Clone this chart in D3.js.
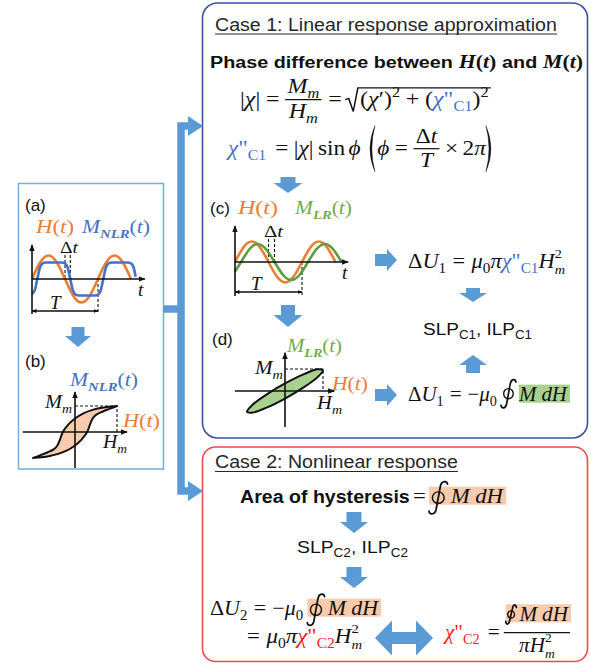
<!DOCTYPE html>
<html>
<head>
<meta charset="utf-8">
<script src="https://cdnjs.cloudflare.com/ajax/libs/d3/7.8.5/d3.min.js"></script>
<style>body{margin:0;background:#fff}</style>
</head>
<body>
<script>
// ---- values ----
// time in periods, amplitudes normalised to the H(t) amplitude
const waveT = [0, .125, .25, .375, .5, .625, .75, .875, 1, 1.125, 1.25, 1.375, 1.5];
const waveH = [0, .71, 1, .71, 0, -.71, -1, -.71, 0, .71, 1, .71, 0];
// (a) nonlinear (saturated) response, lagging H
const nlrT = [0, .04, .08, .12, .16, .21, .45, .5, .54, .58, .62, .66, .71, .95, 1, 1.04, 1.08, 1.12, 1.16, 1.21, 1.45, 1.5, 1.54, 1.57];
const nlrM = [-.63, -.49, 0, .49, .66, .7, .7, .66, .49, 0, -.49, -.66, -.7, -.7, -.66, -.49, 0, .49, .66, .7, .7, .66, .49, .1];
// (c) linear response, lagging H
const lrT = [0, .09, .215, .34, .465, .59, .715, .84, .965, 1.09, 1.215, 1.34, 1.465, 1.59];
const lrM = [-.47, 0, .62, .88, .62, 0, -.62, -.88, -.62, 0, .62, .88, .62, 0];
// (b) hysteresis loop, H/Hm and M/Mm
const hysDescH = [1, .8, .6, .4, .2, 0, -.15, -.29, -.36, -.42, -.5, -.65, -.82, -1];
const hysDescM = [1, .97, .92, .84, .72, .52, .3, 0, -.3, -.52, -.66, -.78, -.89, -1];
const hysAscH = [-1, -.8, -.6, -.4, -.2, 0, .15, .29, .36, .42, .5, .65, .82, 1];
const hysAscM = [-1, -.97, -.92, -.84, -.72, -.52, -.3, 0, .3, .52, .66, .78, .89, 1];
// (d) elliptic loop of the linear response
const ellH = [1, .866, .5, 0, -.5, -.866, -1, -.866, -.5, 0, .5, .866];
const ellM = [.94, .985, .766, .342, -.174, -.643, -.94, -.985, -.766, -.342, .174, .643];

const W = 591, H = 663;
const MATH = "'Liberation Serif', 'DejaVu Serif', serif";
const SANS = "'Liberation Sans', Arial, sans-serif";
const INK = "#111";
const ORANGE = "#ed7d31", BLUE = "#4472c4", GREEN = "#70ad47", RED = "#ff1a1a";
const ARROW = "#5b9bd5";

const svg = d3.select("body").append("svg").attr("width", W).attr("height", H);

const defs = svg.append("defs");
defs.append("marker").attr("id", "ah").attr("viewBox", "0 0 10 10")
    .attr("refX", 9).attr("refY", 5).attr("markerUnits", "userSpaceOnUse")
    .attr("markerWidth", 7).attr("markerHeight", 7).attr("orient", "auto-start-reverse")
  .append("path").attr("d", "M0,1L10,5L0,9z").attr("fill", INK);
defs.append("marker").attr("id", "ahs").attr("viewBox", "0 0 10 10")
    .attr("refX", 9).attr("refY", 5).attr("markerUnits", "userSpaceOnUse")
    .attr("markerWidth", 5).attr("markerHeight", 5).attr("orient", "auto-start-reverse")
  .append("path").attr("d", "M0,1L10,5L0,9z").attr("fill", INK);

// ---- frames ----
svg.append("rect").attr("x", 18.5).attr("y", 183.5).attr("width", 145).attr("height", 285.5)
    .attr("fill", "none").attr("stroke", "#72aee0").attr("stroke-width", 1.5);
svg.append("rect").attr("x", 202.5).attr("y", 3).attr("width", 385).attr("height", 435).attr("rx", 15)
    .attr("fill", "none").attr("stroke", "#3a51a3").attr("stroke-width", 1.6);
svg.append("rect").attr("x", 202.5).attr("y", 447).attr("width", 385).attr("height", 214.5).attr("rx", 13)
    .attr("fill", "none").attr("stroke", "#ef4a4a").attr("stroke-width", 1.6);

// connector from the left panel to both cases
svg.append("path").attr("d", "M190,126H181V491H190M163,309H181")
    .attr("fill", "none").attr("stroke", ARROW).attr("stroke-width", 7.5);
svg.append("path").attr("d", "M188,116L203,126L188,136ZM188,481L203,491L188,501Z").attr("fill", ARROW);

// block arrows: tail point, angle, length, head width, shaft width, head length
function blockArrow(x, y, ang, len, hw, sw, hl) {
  svg.append("path")
    .attr("d", `M0,${-sw/2}H${len-hl}V${-hw/2}L${len},0L${len-hl},${hw/2}V${sw/2}H0Z`)
    .attr("transform", `translate(${x},${y}) rotate(${ang})`)
    .attr("fill", ARROW);
}
blockArrow(288, 177, 90, 16, 29, 15, 10);
blockArrow(288, 305, 90, 22, 29, 14, 12);
blockArrow(375, 260, 0, 22, 22, 12, 10);
blockArrow(473, 288, 90, 14, 28, 14, 9);
blockArrow(473, 373, -90, 18, 28, 14, 10);
blockArrow(375, 395, 0, 22, 22, 12, 10);
blockArrow(78, 327, 90, 20, 26, 13, 11);
blockArrow(354, 512, 90, 21, 28, 15, 11);
blockArrow(354, 567, 90, 21, 28, 15, 11);
svg.append("path")
  .attr("d", "M375,638L392,620.5V632H416V620.5L433,638L416,655.5V644H392V655.5Z")
  .attr("fill", ARROW);

// ---- tiny math layout: one <text> per group, one tspan per run ----
function txt(p, x, y, s, o) {
  let t = p.select(":scope > text");
  if (t.empty()) t = p.append("text");
  return t.append("tspan").attr("x", x).attr("y", y).text(s)
    .attr("font-family", o.sans ? SANS : MATH)
    .attr("font-size", o.size)
    .attr("font-style", o.it ? "italic" : "normal")
    .attr("font-weight", o.b ? "bold" : "normal")
    .attr("fill", o.fill || INK)
    .node().getComputedTextLength();
}
function mk(base) {
  return (s, o = {}) => (p, x, y, sz, st) =>
    txt(p, x, y + (o.dy || 0) * sz, s, {...st, ...base, ...o, size: sz * (o.k || 1)});
}
const I = mk({it: true}), R = mk({it: false}), S = mk({sans: true, it: false});
const sub = (s, o = {}) => R(s, {dy: .25, k: .68, ...o});
const sup = (s, o = {}) => R(s, {dy: -.42, k: .68, ...o});
const subsup = (b, a) => (p, x, y, sz, st) => Math.max(
  txt(p, x, y + .3 * sz, b, {...st, it: true, size: sz * .64}),
  txt(p, x, y - .46 * sz, a, {...st, it: false, size: sz * .64}));
const gap = w => () => w;

function layout(p, x, y, sz, items, st = {}) {
  let cx = x;
  items.forEach(f => { cx += f(p, cx, y, sz, st); });
  return cx - x;
}
function line(x, y, sz, items, target, st = {}) {
  const g = svg.append("g");
  const w = layout(g, x, y, sz, items, st);
  if (target) g.attr("transform", `translate(${x},0) scale(${target / w},1) translate(${-x},0)`);
  return g;
}
const frac = (num, den, nUp, dDown) => (p, x, y, sz, st) => {
  const bar = y - sz * .3;
  const gn = p.append("g"), gd = p.append("g");
  const wn = layout(gn, 0, bar - nUp, sz, num, st);
  const wd = layout(gd, 0, bar + dDown, sz, den, st);
  const w = Math.max(wn, wd) + 4;
  gn.attr("transform", `translate(${x + (w - wn) / 2},0)`);
  gd.attr("transform", `translate(${x + (w - wd) / 2},0)`);
  p.append("line").attr("x1", x).attr("x2", x + w).attr("y1", bar).attr("y2", bar)
    .attr("stroke", INK).attr("stroke-width", 1.2);
  return w + 2;
};
const sqrt = items => (p, x, y, sz, st) => {
  const top = y - sz * .86;
  const w = layout(p, x + 13, y, sz, items, st);
  p.append("path")
    .attr("d", `M${x},${y - sz*.3}L${x+3},${y - sz*.36}L${x+7},${y + sz*.26}L${x+11},${top}H${x+15+w}`)
    .attr("fill", "none").attr("stroke", INK).attr("stroke-width", 1.3);
  return w + 16;
};
const paren = left => (p, x, y, sz) => {
  const c = y - sz * .3, t = c - 23, b = c + 23, w = 8;
  const d = left
    ? `M${x+w},${t}Q${x-1},${c} ${x+w},${b}Q${x+2.4},${c} ${x+w},${t}Z`
    : `M${x},${t}Q${x+w+1},${c} ${x},${b}Q${x+w-2.4},${c} ${x},${t}Z`;
  p.append("path").attr("d", d).attr("fill", INK).attr("stroke", INK).attr("stroke-width", .4);
  return w + 2;
};
const oint = (h, dy = 0) => (p, x, y, sz) => {
  const cy = y - sz * .3 + dy, w = h * .5, t = cy - h / 2, b = cy + h / 2;
  p.append("path")
    .attr("d", `M${x+w},${t+3.5}C${x+w-.5},${t} ${x+w*.7},${t-.5} ${x+w*.62},${t+5}` +
      `L${x+w*.38},${b-5}C${x+w*.3},${b+.5} ${x},${b} ${x},${b-3.5}`)
    .attr("fill", "none").attr("stroke", INK).attr("stroke-width", 1.7).attr("stroke-linecap", "round");
  p.append("ellipse").attr("cx", x + w * .5).attr("cy", cy).attr("rx", h * .16).attr("ry", h * .17)
    .attr("fill", "none").attr("stroke", INK).attr("stroke-width", 1.4);
  return w + 2;
};
const hl = (items, color, l = 1, r = 2) => (p, x, y, sz, st) => {
  const rect = p.insert("rect", ":first-child");
  const w = layout(p, x, y, sz, items, st);
  rect.attr("x", x - l).attr("y", y - sz * .78).attr("width", w + l + r)
      .attr("height", sz * .86).attr("fill", color);
  return w;
};

const Ht = [I("H"), R("("), I("t"), R(")")];
const Mnlr = [I("M"), sub("NLR", {it: true, b: true}), R("("), I("t"), R(")")];
const Mlr = [I("M"), sub("LR", {it: true, b: true}), R("("), I("t"), R(")")];
const Mm = [I("M"), sub("m", {it: true})];
const Hm = [I("H"), sub("m", {it: true})];
const MdH = [I("M"), gap(5), I("d"), I("H")];

// ---- Case 1 ----
line(215, 31, 18.5, [S("Case 1: Linear response approximation")], 342, {fill: "#262626"});
svg.append("line").attr("x1", 215).attr("x2", 557).attr("y1", 34).attr("y2", 34)
    .attr("stroke", "#262626").attr("stroke-width", 1.2);

line(210, 68, 17, [S("Phase difference between"), gap(5), I("H", {k: 1.1}), R("(", {k: 1.1}), I("t", {k: 1.1}),
  R(")", {k: 1.1}), gap(5), S("and"), gap(5), I("M", {k: 1.1}), R("(", {k: 1.1}), I("t", {k: 1.1}), R(")", {k: 1.1})],
  373, {b: true});

line(240, 106, 21, [R("|"), I("χ"), R("|"), gap(5), R("="), gap(5),
  frac(Mm, Hm, 6.5, 18.5), gap(4), R("="), gap(3),
  sqrt([R("("), I("χ"), R("′"), R(")"), sup("2"), gap(5), R("+"), gap(5), R("("),
    I("χ", {fill: BLUE}), R("\"", {fill: BLUE}), sub("C1", {fill: BLUE}), R(")"), sup("2")])], 252);

line(228, 155, 21, [I("χ", {fill: BLUE}), R("\"", {fill: BLUE}), sub("C1", {fill: BLUE}), gap(8),
  R("="), gap(5), R("|"), I("χ"), R("|"), gap(4), R("sin"), gap(3), I("ϕ"), gap(5), paren(true),
  I("ϕ"), gap(5), R("="), gap(5), frac([R("Δ"), I("t")], [I("T")], 6, 18), gap(3), R("×"), gap(4),
  R("2"), I("π"), paren(false)], 269);

line(408, 268, 21, [R("Δ"), I("U"), sub("1"), gap(6), R("="), gap(6), I("μ"), sub("0"), I("π"),
  I("χ", {fill: BLUE}), R("\"", {fill: BLUE}), sub("C1", {fill: BLUE}), I("H"), subsup("m", "2")], 157);

line(423, 335, 17, [S("SLP"), S("C1", {dy: .24, k: .7}), S(", ILP"), S("C1", {dy: .24, k: .7})], 109);

line(408, 401, 21, [R("Δ"), I("U"), sub("1"), gap(6), R("="), gap(6), R("−"), I("μ"), sub("0"), gap(4),
  oint(30, -1), gap(1), hl(MdH, "#a9d18e", 0, 3)], 159);

// ---- Case 2 ----
line(215, 468, 18.5, [S("Case 2: Nonlinear response")], 243, {fill: "#262626"});
svg.append("line").attr("x1", 215).attr("x2", 458).attr("y1", 471.5).attr("y2", 471.5)
    .attr("stroke", "#262626").attr("stroke-width", 1.2);

line(240, 503, 21, [S("Area of hysteresis", {b: true, k: .86}), gap(3), R("="), gap(3),
  hl([oint(34, 1), gap(1), ...MdH], "#f8cbad", 0, 3)], 263);

line(297, 553, 17, [S("SLP"), S("C2", {dy: .24, k: .7}), S(", ILP"), S("C2", {dy: .24, k: .7})], 111);

line(210, 615, 21, [R("Δ"), I("U"), sub("2"), gap(6), R("="), gap(6), R("−"), I("μ"), sub("0"), gap(4),
  hl([oint(33, 1), gap(1), ...MdH], "#f8cbad", 0, 3)], 168);

line(247, 643, 21, [R("="), gap(6), I("μ"), sub("0"), I("π"), I("χ", {fill: RED}), R("\"", {fill: RED}),
  sub("C2", {fill: RED}), I("H"), subsup("m", "2")], 115);

line(445, 639, 21, [I("χ", {fill: RED}), R("\"", {fill: RED}), sub("C2", {fill: RED}), gap(8), R("="), gap(4),
  frac([hl([oint(21, 0), gap(1), ...MdH], "#f8cbad", 0, 3)], [I("π"), I("H"), subsup("m", "2")], 12, 19)], 127);

// ---- panel helpers ----
const curve = (xs, ys, ts, vs, c) => d3.line().curve(c)(ts.map((t, i) => [xs(t), ys(vs[i])]));
function axisLine(x1, y1, x2, y2, marker = "ah", w = 1.6) {
  svg.append("line").attr("x1", x1).attr("y1", y1).attr("x2", x2).attr("y2", y2)
    .attr("stroke", INK).attr("stroke-width", w).attr("marker-end", `url(#${marker})`);
}
function dashed(pts) {
  svg.append("path").attr("d", d3.line()(pts)).attr("fill", "none")
    .attr("stroke", INK).attr("stroke-width", 1.1).attr("stroke-dasharray", "3,2");
}
function bracket(x1, x2, y) {
  svg.append("line").attr("x1", x1).attr("x2", x2).attr("y1", y).attr("y2", y)
    .attr("stroke", INK).attr("stroke-width", 1.3)
    .attr("marker-start", "url(#ahs)").attr("marker-end", "url(#ahs)");
}

// ---- (a) ----
const xA = d3.scaleLinear().domain([0, 1]).range([32, 98]);
const yA = d3.scaleLinear().domain([-1, 1]).range([302.5, 255.5]);
line(25, 211, 17, [S("(a)")]);
line(36, 233, 19, Ht, 38, {fill: ORANGE});
line(82, 233, 19, Mnlr, 68, {fill: BLUE});
dashed([[xA(.5), 255], [xA(.5), yA(0)]]);
dashed([[xA(.58), 255], [xA(.58), yA(0)]]);
dashed([[xA(1), yA(0)], [xA(1), 313]]);
line(60, 253, 17, [R("Δ"), I("t")], 18);
svg.append("path").attr("d", curve(xA, yA, waveT, waveH, d3.curveNatural))
    .attr("fill", "none").attr("stroke", ORANGE).attr("stroke-width", 2.6);
svg.append("path").attr("d", curve(xA, yA, nlrT, nlrM, d3.curveMonotoneX))
    .attr("fill", "none").attr("stroke", BLUE).attr("stroke-width", 2.6);
axisLine(xA(0), yA(0), xA(1.71), yA(0));
axisLine(xA(0), 314, xA(0), 245);
bracket(xA(0), xA(1), 311);
line(138, 296, 19, [I("t")]);
line(50, 309, 19, [I("T")]);

// ---- (b) ----
const xB = d3.scaleLinear().domain([-1, 1]).range([33, 117]);
const yB = d3.scaleLinear().domain([-1, 1]).range([458, 406]);
line(25, 367, 17, [S("(b)")]);
line(70, 386, 19, Mnlr, 68, {fill: BLUE});
const desc = hysDescH.map((h, i) => [xB(h), yB(hysDescM[i])]);
const asc = hysAscH.map((h, i) => [xB(h), yB(hysAscM[i])]);
const cr = d3.line().curve(d3.curveCatmullRom.alpha(.5));
svg.append("path").attr("d", cr(desc) + cr(asc).replace(/^M/, "L") + "Z")
    .attr("fill", "#f8cbad").attr("stroke", INK).attr("stroke-width", 2).attr("stroke-linejoin", "round");
axisLine(xB(-1.24), yB(0), xB(1.24), yB(0));
axisLine(xB(0), yB(-1.38), xB(0), yB(1.54));
dashed([[xB(0), yB(1)], [xB(1), yB(1)], [xB(1), yB(0)]]);
line(45, 408, 19, Mm, 27);
line(123, 427, 19, Ht, 37, {fill: ORANGE});
line(103, 448, 19, Hm, 24);

// ---- (c) ----
const xC = d3.scaleLinear().domain([0, 1]).range([235, 302]);
const yC = d3.scaleLinear().domain([-1, 1]).range([282.5, 241.5]);
line(210, 214, 17, [S("(c)")]);
line(238, 214, 19, Ht, 40, {fill: ORANGE});
line(295, 214, 19, Mlr, 57, {fill: GREEN});
dashed([[xC(.5), 239], [xC(.5), yC(0)]]);
dashed([[xC(.59), 239], [xC(.59), yC(0)]]);
dashed([[xC(1), yC(0)], [xC(1), 295]]);
line(264, 237, 17, [R("Δ"), I("t")], 19);
svg.append("path").attr("d", curve(xC, yC, waveT, waveH, d3.curveNatural))
    .attr("fill", "none").attr("stroke", ORANGE).attr("stroke-width", 2.6);
svg.append("path").attr("d", curve(xC, yC, lrT, lrM, d3.curveNatural))
    .attr("fill", "none").attr("stroke", "#5e9c3e").attr("stroke-width", 2.6);
axisLine(xC(0), yC(0), xC(1.69), yC(0));
axisLine(xC(0), 296, xC(0), 226);
bracket(xC(0), xC(1), 292);
line(342, 279, 19, [I("t")]);
line(251, 290, 19, [I("T")]);

// ---- (d) ----
const xD = d3.scaleLinear().domain([-1, 1]).range([247, 323]);
const yD = d3.scaleLinear().domain([-1, 1]).range([413, 369]);
line(212, 345, 17, [S("(d)")]);
line(287, 352, 19, Mlr, 55, {fill: GREEN});
svg.append("path")
    .attr("d", d3.line().curve(d3.curveCatmullRomClosed)(ellH.map((h, i) => [xD(h), yD(ellM[i])])))
    .attr("fill", "#a9d18e").attr("stroke", INK).attr("stroke-width", 2);
axisLine(xD(-1.32), yD(0), xD(1.3), yD(0));
axisLine(xD(0), yD(-1.64), xD(0), yD(1.74));
dashed([[xD(0), yD(1)], [xD(1), yD(1)], [xD(1), yD(0)]]);
line(255, 374, 19, Mm, 28);
line(332, 390, 19, Ht, 36, {fill: ORANGE});
line(317, 409, 19, Hm, 25);
</script>
</body>
</html>
